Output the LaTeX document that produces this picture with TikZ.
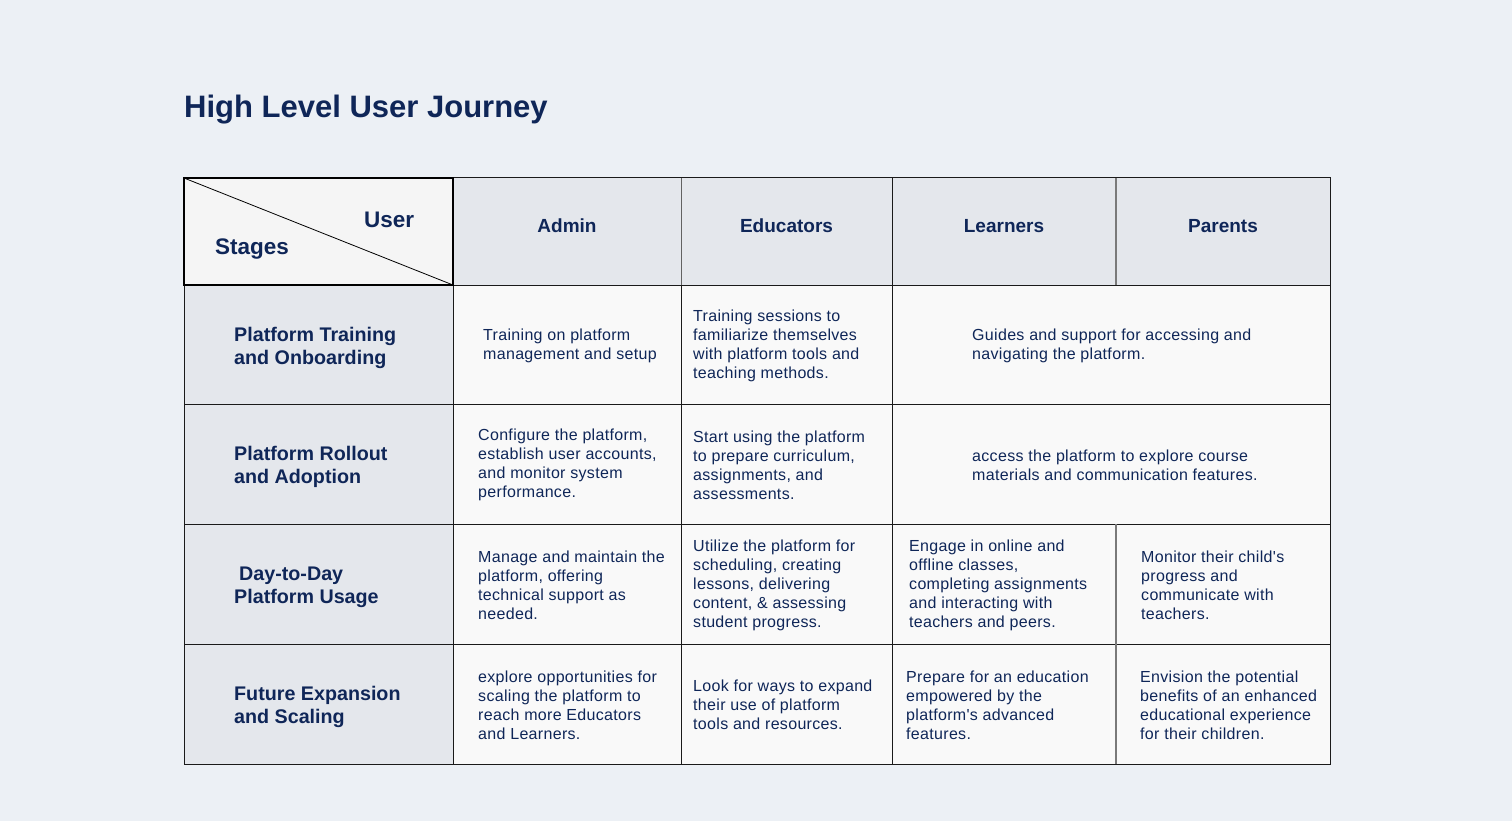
\documentclass[tikz,border=0pt]{standalone}
\usepackage{fontspec}
\setmainfont{Liberation Sans}
\definecolor{bgc}{HTML}{ECF0F5}
\definecolor{hdrc}{HTML}{E4E7EC}
\definecolor{cellc}{HTML}{F9F9F9}
\definecolor{cornc}{HTML}{F5F5F5}
\definecolor{navy}{HTML}{0F2658}
\definecolor{linec}{HTML}{1A1A1A}
\definecolor{grayl}{HTML}{7A7A7A}
\newfontfamily\bodyfont[LetterSpace=2, Ligatures=TeXOff]{Liberation Sans}
\tikzset{
  cellbox/.style={draw=linec, line width=1pt, inner sep=0pt, outer sep=0pt, anchor=north west},
  hdr/.style={cellbox, fill=hdrc},
  body/.style={cellbox, fill=cellc},
  bodytxt/.style={anchor=west, align=left, inner sep=0pt, text=navy, font=\bodyfont\fontsize{16}{19}\selectfont},
  hdrtxt/.style={anchor=base, inner sep=0pt, text=navy, font=\fontsize{19}{23}\selectfont\bfseries},
  stagetxt/.style={anchor=west, align=left, inner sep=0pt, text=navy, font=\fontsize{19.7}{23}\selectfont\bfseries},
  cornertxt/.style={anchor=west, inner sep=0pt, text=navy, font=\fontsize{22.5}{26}\selectfont\bfseries},
}
\begin{document}
\begin{tikzpicture}[x=1pt,y=-1pt]
\fill[bgc] (0,0) rectangle (1512,821);
\useasboundingbox (0,0) rectangle (1512,821);
\node[anchor=base west, inner sep=0pt, text=navy, font=\fontsize{31}{36}\selectfont\bfseries] (title) at (184,118) {High Level User Journey};
% header row
\node[hdr, minimum width=228pt, minimum height=107pt] (hA) at (453,178) {};
\node[hdr, minimum width=211pt, minimum height=107pt] (hE) at (681,178) {};
\node[hdr, minimum width=224pt, minimum height=107pt] (hL) at (892,178) {};
\node[hdr, minimum width=214pt, minimum height=107pt] (hP) at (1116,178) {};
% stage column
\node[hdr, minimum width=269pt, minimum height=119pt] (s1) at (184,285) {};
\node[hdr, minimum width=269pt, minimum height=120pt] (s2) at (184,404) {};
\node[hdr, minimum width=269pt, minimum height=120pt] (s3) at (184,524) {};
\node[hdr, minimum width=269pt, minimum height=120pt] (s4) at (184,644) {};
% row 1
\node[body, minimum width=228pt, minimum height=119pt] (a1) at (453,285) {};
\node[body, minimum width=211pt, minimum height=119pt] (e1) at (681,285) {};
\node[body, minimum width=438pt, minimum height=119pt] (lp1) at (892,285) {};
% row 2
\node[body, minimum width=228pt, minimum height=120pt] (a2) at (453,404) {};
\node[body, minimum width=211pt, minimum height=120pt] (e2) at (681,404) {};
\node[body, minimum width=438pt, minimum height=120pt] (lp2) at (892,404) {};
% row 3
\node[body, minimum width=228pt, minimum height=120pt] (a3) at (453,524) {};
\node[body, minimum width=211pt, minimum height=120pt] (e3) at (681,524) {};
\node[body, minimum width=224pt, minimum height=120pt] (l3) at (892,524) {};
\node[body, minimum width=214pt, minimum height=120pt] (p3) at (1116,524) {};
% row 4
\node[body, minimum width=228pt, minimum height=120pt] (a4) at (453,644) {};
\node[body, minimum width=211pt, minimum height=120pt] (e4) at (681,644) {};
\node[body, minimum width=224pt, minimum height=120pt] (l4) at (892,644) {};
\node[body, minimum width=214pt, minimum height=120pt] (p4) at (1116,644) {};
% gray dividers
\draw[grayl, line width=1.5pt] (hL.north east) -- (hL.south east);
\draw[grayl, line width=1.5pt] (l3.north east) -- (l4.south east);
\draw[grayl!80!black, line width=1pt] (hA.north east) -- (hA.south east);
% corner
\node[cellbox, fill=cornc, draw=black, line width=2pt, minimum width=269pt, minimum height=107pt] (corner) at (184,178) {};
\draw[black, line width=0.8pt] (corner.north west) -- (corner.south east);
\node[cornertxt] (user) at (364,220) {User};
\node[cornertxt] (stages) at (215,249) {Stages};
% header texts
\node[hdrtxt] (tA) at (hA.center |- 0,233) {Admin};
\node[hdrtxt] (tE) at (hE.center |- 0,233) {Educators};
\node[hdrtxt] (tL) at (hL.center |- 0,233) {Learners};
\node[hdrtxt] (tP) at (hP.center |- 0,233) {Parents};
% stage texts
\node[stagetxt] (ts1) at (234,347.5) {Platform Training\\and Onboarding};
\node[stagetxt] (ts2) at (234,467) {Platform Rollout\\and Adoption};
\node[stagetxt] (ts3) at (234,587) {\hspace{5pt}Day-to-Day\\Platform Usage};
\node[stagetxt] (ts4) at (234,707) {Future Expansion\\and Scaling};
% row 1 texts
\node[bodytxt] (ta1) at (483,345.5) {Training on platform\\management and setup};
\node[bodytxt] (te1) at (693,345.5) {Training sessions to\\familiarize themselves\\with platform tools and\\teaching methods.};
\node[bodytxt] (tlp1) at (972,345.5) {Guides and support for accessing and\\navigating the platform.};
% row 2 texts
\node[bodytxt] (ta2) at (478,465) {Configure the platform,\\establish user accounts,\\and monitor system\\performance.};
\node[bodytxt] (te2) at (693,465) {Start using the platform\\to prepare curriculum,\\assignments, and\\assessments.};
\node[bodytxt] (tlp2) at (972,465) {access the platform to explore course\\materials and communication features.};
% row 3 texts
\node[bodytxt] (ta3) at (478,585) {Manage and maintain the\\platform, offering\\technical support as\\needed.};
\node[bodytxt] (te3) at (693,585) {Utilize the platform for\\scheduling, creating\\lessons, delivering\\content, \& assessing\\student progress.};
\node[bodytxt] (tl3) at (909,585) {Engage in online and\\offline classes,\\completing assignments\\and interacting with\\teachers and peers.};
\node[bodytxt] (tp3) at (1141,585) {Monitor their child's\\progress and\\communicate with\\teachers.};
% row 4 texts
\node[bodytxt] (ta4) at (478,705) {explore opportunities for\\scaling the platform to\\reach more Educators\\and Learners.};
\node[bodytxt] (te4) at (693,705) {Look for ways to expand\\their use of platform\\tools and resources.};
\node[bodytxt] (tl4) at (906,705) {Prepare for an education\\empowered by the\\platform's advanced\\features.};
\node[bodytxt] (tp4) at (1140,705) {Envision the potential\\benefits of an enhanced\\educational experience\\for their children.};
\end{tikzpicture}
\end{document}
